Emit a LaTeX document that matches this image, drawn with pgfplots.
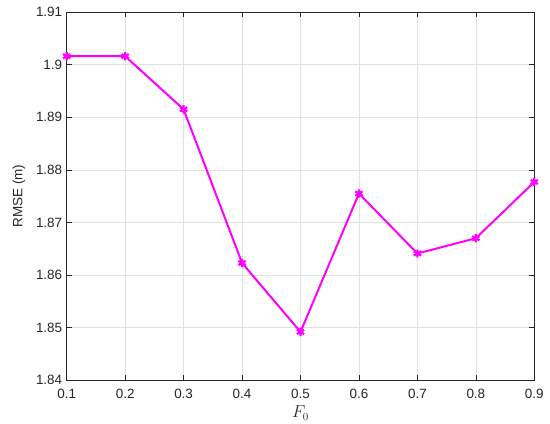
\documentclass[border=0pt]{standalone}
\usepackage{pgfplots}
\pgfplotsset{compat=1.18}
\usepackage{fontspec}
\setmainfont{Liberation Sans}
\definecolor{mag}{RGB}{255,0,255}
\begin{document}
\begin{tikzpicture}[x=1bp,y=1bp]
  \useasboundingbox (-66.7bp,-43.7bp) rectangle (483.3bp,380.3bp);
  \begin{axis}[
    at={(0,0)},anchor=south west,
    scale only axis,
    width=467.6bp,height=368.3bp,
    xmin=0.1,xmax=0.9,ymin=1.84,ymax=1.91,
    xtick={0.1,0.2,...,0.9},
    ytick={1.84,1.85,...,1.91},
    xticklabels={0.1,0.2,0.3,0.4,0.5,0.6,0.7,0.8,0.9},
    yticklabels={1.84,1.85,1.86,1.87,1.88,1.89,1.9,1.91},
    tick align=inside,
    tick pos=both,
    major tick length=5bp,
    axis line style={draw=black!85,line width=0.6pt},
    every tick/.style={draw=black!85,line width=0.6pt},
    grid=major,
    major grid style={draw=black!12,line width=0.6pt},
    tick label style={font=\fontsize{13.5}{15}\selectfont,text=black!85},
    xticklabel style={yshift=-5bp},
    yticklabel style={xshift=-1bp},
    label style={font=\fontsize{13.5}{15}\selectfont,text=black!85},
    xlabel={\fontsize{16}{18}\selectfont$F_0$},
    ylabel={RMSE (m)},
    xlabel style={yshift=-1bp},
    ylabel style={yshift=4bp},
  ]
  \addplot[color=mag,line width=2bp,mark=asterisk,mark size=4.2bp,
    mark options={line width=2.2bp}]
    coordinates {(0.1,1.9016) (0.2,1.9016) (0.3,1.8915) (0.4,1.8623) (0.5,1.8492)
                 (0.6,1.8755) (0.7,1.8641) (0.8,1.8670) (0.9,1.8777)};
  \end{axis}
\end{tikzpicture}
\end{document}
